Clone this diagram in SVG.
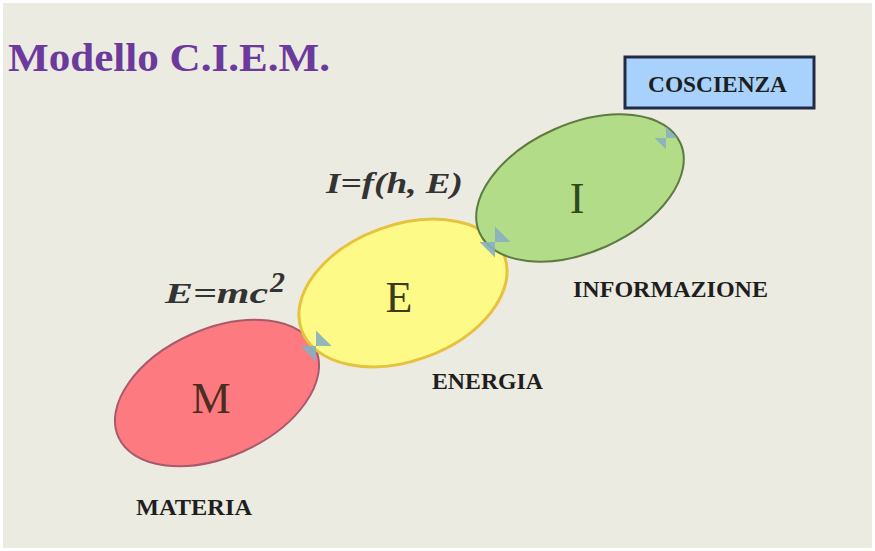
<svg xmlns="http://www.w3.org/2000/svg" width="875" height="551" viewBox="0 0 875 551">
<style>
.lbl{font-family:"Liberation Serif","Times New Roman",serif;font-weight:bold;fill:#1e1e1e;font-size:23px}
.big{font-family:"Liberation Serif","Times New Roman",serif;font-size:44px;text-anchor:middle}
.eq{font-family:"Liberation Serif","Times New Roman",serif;font-weight:bold;font-style:italic;font-size:30px;fill:#333}
.conn{fill:#86b0c0;opacity:0.9}
</style>
<rect x="0" y="0" width="875" height="551" fill="#ffffff"/>
<rect x="3" y="3" width="869" height="545" fill="#ecebe2"/>
<text x="8" y="71" font-family="'Liberation Serif','Times New Roman',serif" font-weight="bold" font-size="40" fill="#6b3a9c" textLength="322" lengthAdjust="spacingAndGlyphs">Modello C.I.E.M.</text>
<g id="coscienza">
<rect x="625" y="57" width="189" height="51" fill="#a8d2fb" stroke="#1f2b47" stroke-width="3"/>
<text x="648" y="92" class="lbl" font-size="22" fill="#1f2b47" textLength="139" lengthAdjust="spacingAndGlyphs">COSCIENZA</text>
</g>
<g id="materia">
<ellipse cx="217" cy="393" rx="108" ry="64" transform="rotate(-24 217 393)" fill="#fd7b80" stroke="#a85a6a" stroke-width="2"/>
<text x="211" y="413" class="big" fill="#4a2e22">M</text>
<text x="136" y="515" class="lbl" textLength="116" lengthAdjust="spacingAndGlyphs">MATERIA</text>
</g>
<g id="energia">
<ellipse cx="403" cy="293" rx="108" ry="68" transform="rotate(-20 403 293)" fill="#fdfa88" stroke="#e6c23e" stroke-width="3"/>
<text x="399" y="312" class="big" fill="#3b3b1e">E</text>
<text x="432" y="389" class="lbl" textLength="111" lengthAdjust="spacingAndGlyphs">ENERGIA</text>
<text x="165" y="303" class="eq" textLength="103" lengthAdjust="spacingAndGlyphs">E=mc</text>
<text x="270" y="292" class="eq" font-size="22">2</text>
</g>
<g id="informazione">
<ellipse cx="580" cy="188" rx="110" ry="64" transform="rotate(-24 580 188)" fill="#b3dc88" stroke="#5e7a3e" stroke-width="2"/>
<text x="577" y="213" class="big" fill="#2e4a1e">I</text>
<text x="573" y="297" class="lbl" textLength="195" lengthAdjust="spacingAndGlyphs">INFORMAZIONE</text>
<text x="326" y="193" class="eq" textLength="137" lengthAdjust="spacingAndGlyphs">I=f(h, E)</text>
</g>
<g id="connectors">
<path class="conn" d="M305 335 L327 335 L316 346 Z M305 357 L327 357 L316 346 Z" transform="rotate(45 316 346)"/>
<path class="conn" d="M484 231 L506 231 L495 242 Z M484 253 L506 253 L495 242 Z" transform="rotate(45 495 242)"/>
<path class="conn" d="M658 130 L674 130 L666 138 Z M658 146 L674 146 L666 138 Z" transform="rotate(45 666 138)"/>
</g>
</svg>
